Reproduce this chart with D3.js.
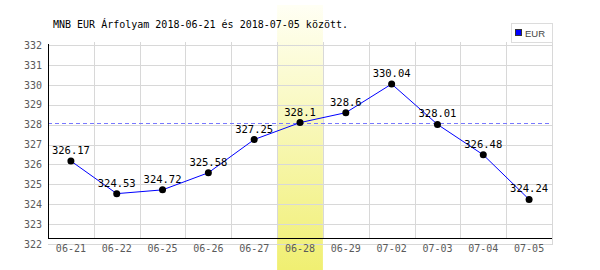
<!DOCTYPE html>
<html>
<head>
<meta charset="utf-8">
<script src="https://cdn.jsdelivr.net/npm/d3@7"></script>
<style>
  body { margin: 0; background: #fff; }
  svg { display: block; }
  .tick-label { font-family: "DejaVu Sans Mono", monospace; font-size: 10px; fill: #5a5a5a; }
</style>
</head>
<body>
<svg id="chart" width="600" height="270"></svg>
<script>
// data
const dates = ["06-21", "06-22", "06-25", "06-26", "06-27", "06-28", "06-29", "07-02", "07-03", "07-04", "07-05"]
const rates = [326.17, 324.53, 324.72, 325.58, 327.25, 328.1, 328.6, 330.04, 328.01, 326.48, 324.24]
const yTicks = [322, 323, 324, 325, 326, 327, 328, 329, 330, 331, 332]
const highlightDate = ["06-28"]
const referenceRate = [328.1]
const seriesName = ["EUR"]

const svg = d3.select("#chart")

const plot = {left: 48, right: 552, top: 45, bottom: 244, axisY: 238}

const x = d3.scaleBand().domain(dates).range([plot.left, plot.right])
const y = d3.scaleLinear().domain([322, 332]).range([plot.bottom, plot.top])

// highlight band with gradient
const defs = svg.append("defs")
const grad = defs.append("linearGradient")
  .attr("id", "hl").attr("x1", 0).attr("y1", 0).attr("x2", 0).attr("y2", 1)
grad.append("stop").attr("offset", "0%").attr("stop-color", "#fffff4")
grad.append("stop").attr("offset", "100%").attr("stop-color", "#f0ef72")

svg.selectAll("rect.hl")
  .data(highlightDate)
  .join("rect")
  .attr("class", "hl")
  .attr("x", d => x(d))
  .attr("y", 5)
  .attr("width", x.bandwidth())
  .attr("height", 265)
  .attr("fill", "url(#hl)")

// horizontal gridlines
svg.append("g")
  .selectAll("line")
  .data(yTicks)
  .join("line")
  .attr("x1", plot.left)
  .attr("x2", plot.right)
  .attr("y1", d => Math.round(y(d)) + 0.5)
  .attr("y2", d => Math.round(y(d)) + 0.5)
  .attr("stroke", "#d8d8d8")

// vertical gridlines at band edges
const edges = dates.slice(1).map(d => x(d)).concat([plot.right])
svg.append("g")
  .selectAll("line")
  .data(edges)
  .join("line")
  .attr("x1", d => Math.round(d) + 0.5)
  .attr("x2", d => Math.round(d) + 0.5)
  .attr("y1", 42)
  .attr("y2", (d, i) => i === edges.length - 1 ? plot.bottom + 1 : plot.axisY)
  .attr("stroke", "#d8d8d8")

// reference dashed line
svg.selectAll("line.ref")
  .data(referenceRate)
  .join("line")
  .attr("class", "ref")
  .attr("x1", plot.left)
  .attr("x2", plot.right)
  .attr("y1", d => Math.round(y(d)) + 0.5)
  .attr("y2", d => Math.round(y(d)) + 0.5)
  .attr("stroke", "#7878ff")
  .attr("stroke-dasharray", "4,3")

// y axis labels
const yAxis = d3.axisLeft(y).tickValues(yTicks).tickSize(0).tickPadding(6).tickFormat(d3.format("d"))
const yg = svg.append("g").attr("transform", `translate(${plot.left},0)`).call(yAxis)
yg.select(".domain").remove()
yg.selectAll("text").attr("class", "tick-label").attr("font-family", null).attr("font-size", null)

// x axis
const xAxis = d3.axisBottom(x).tickSize(0).tickPadding(7)
const xg = svg.append("g").attr("transform", `translate(0,${plot.axisY})`).call(xAxis)
xg.select(".domain").remove()
xg.selectAll("text").attr("class", "tick-label").attr("font-family", null).attr("font-size", null)

// black axis lines
svg.append("line")
  .attr("x1", plot.left + 0.5).attr("x2", plot.left + 0.5)
  .attr("y1", 44).attr("y2", plot.axisY + 1)
  .attr("stroke", "#000")
svg.append("line")
  .attr("x1", plot.left).attr("x2", plot.right)
  .attr("y1", plot.axisY + 0.5).attr("y2", plot.axisY + 0.5)
  .attr("stroke", "#000")

// series line
const cx = d => x(d) + x.bandwidth() / 2
const line = d3.line()
  .x((d, i) => cx(dates[i]))
  .y(d => y(d))

svg.append("path")
  .datum(rates)
  .attr("d", line)
  .attr("fill", "none")
  .attr("stroke", "#0000ff")
  .attr("stroke-width", 1)

svg.append("g")
  .selectAll("circle")
  .data(rates)
  .join("circle")
  .attr("cx", (d, i) => cx(dates[i]))
  .attr("cy", d => y(d))
  .attr("r", 3.5)
  .attr("fill", "#000")

svg.append("g")
  .selectAll("text")
  .data(rates)
  .join("text")
  .attr("x", (d, i) => cx(dates[i]))
  .attr("y", d => y(d) - 7)
  .attr("text-anchor", "middle")
  .attr("font-family", "DejaVu Sans Mono, monospace")
  .attr("font-size", 10.5)
  .attr("fill", "#000")
  .text(d => d)

// title
svg.append("text")
  .attr("x", 53)
  .attr("y", 28)
  .attr("font-family", "DejaVu Sans Mono, monospace")
  .attr("font-size", 10)
  .attr("fill", "#000")
  .text(`MNB ${seriesName[0]} Árfolyam 2018-06-21 és 2018-07-05 között.`)

// legend
const legend = svg.append("g").attr("transform", "translate(511,23)")
legend.append("rect")
  .attr("x", 0.5).attr("y", 0.5).attr("width", 41).attr("height", 19)
  .attr("fill", "#fff").attr("stroke", "#dcdcdc")
legend.selectAll("rect.sw")
  .data(seriesName)
  .join("rect")
  .attr("class", "sw")
  .attr("x", 4.5).attr("y", 6.5).attr("width", 6).attr("height", 6)
  .attr("fill", "#0000ff").attr("stroke", "#333")
legend.selectAll("text")
  .data(seriesName)
  .join("text")
  .attr("x", 14)
  .attr("y", 13.5)
  .attr("font-family", "Liberation Sans, Arial, sans-serif")
  .attr("font-size", 9.5)
  .attr("fill", "#444")
  .text(d => d)
</script>
</body>
</html>
